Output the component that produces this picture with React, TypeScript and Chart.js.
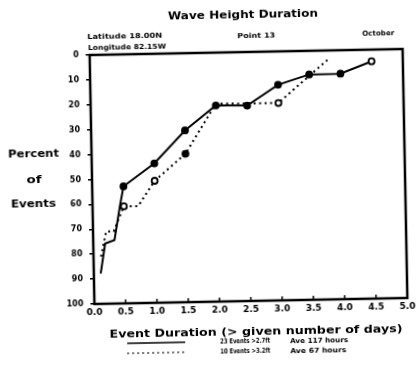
import React, { useEffect, useRef } from "react";
import { Chart, registerables } from "chart.js";

Chart.register(...registerables);

// ---- data ----
const solidX = [0.11, 0.19, 0.34, 0.44, 0.5, 1.0, 1.5, 2.0, 2.5, 3.0, 3.5, 4.0, 4.5];
const solidY = [87.8, 75.8, 74.5, 60.5, 53, 44, 31, 21.2, 21.5, 13.4, 9.5, 9.4, 4.7];
const solidMarker = [0, 0, 0, 0, 1, 1, 1, 1, 1, 1, 1, 1, 2];

const dottedX = [0.12, 0.21, 0.33, 0.5, 0.73, 1.0, 1.5, 2.0, 2.5, 3.0, 3.8];
const dottedY = [81, 71, 71, 61, 61, 51, 40.4, 20.5, 20.7, 20.7, 3.7];
const dottedMarker = [0, 0, 0, 2, 0, 2, 1, 0, 0, 2, 0];

const xTickLabels = ["0.0", "0.5", "1.0", "1.5", "2.0", "2.5", "3.0", "3.5", "4.0", "4.5", "5.0"];
const yTickLabels = ["0", "10", "20", "30", "40", "50", "60", "70", "80", "90", "100"];

const titleText = "Wave Height Duration";
const latText = "Latitude 18.00N";
const lonText = "Longitude 82.15W";
const pointText = "Point 13";
const monthText = "October";
const yTitle = ["Percent", "of", "Events"];
const xTitle = "Event Duration (> given number of days)";
const legendA = ["23 Events >2.7ft", "Ave 117 hours"];
const legendB = ["10 Events >3.2ft", "Ave 67 hours"];

const FONT = '"DejaVu Sans"';

function fitText(
  ctx: CanvasRenderingContext2D,
  text: string,
  x: number,
  y: number,
  width: number,
  font: string,
  align: "left" | "center"
) {
  ctx.save();
  ctx.font = font;
  ctx.textBaseline = "middle";
  ctx.textAlign = "left";
  const w = ctx.measureText(text).width;
  const sx = width / w;
  const left = align === "center" ? x - width / 2 : x;
  ctx.translate(left, y);
  ctx.scale(sx, 1);
  ctx.fillStyle = "#000";
  ctx.fillText(text, 0, 0);
  ctx.restore();
}

const decorPlugin = {
  id: "decor",
  afterDraw(chart: any) {
    const ctx: CanvasRenderingContext2D = chart.ctx;
    const a = chart.chartArea;
    const xs = chart.scales.x;
    ctx.save();
    // frame
    ctx.strokeStyle = "#000";
    ctx.lineWidth = 2.5;
    ctx.strokeRect(a.left, a.top, a.right - a.left, a.bottom - a.top);
    // inward x ticks
    ctx.lineWidth = 1.5;
    xs.ticks.forEach((t: any) => {
      const px = xs.getPixelForValue(t.value);
      ctx.beginPath();
      ctx.moveTo(px, a.bottom);
      ctx.lineTo(px, a.bottom - 4);
      ctx.stroke();
    });
    // texts
    fitText(ctx, titleText, 246, 15, 150, `bold 11px ${FONT}`, "center");
    fitText(ctx, latText, 90, 34, 75, `bold 7px ${FONT}`, "left");
    fitText(ctx, lonText, 90.5, 45, 78, `bold 7px ${FONT}`, "left");
    fitText(ctx, pointText, 259, 36, 38, `bold 7px ${FONT}`, "center");
    fitText(ctx, monthText, 381, 36, 32, `bold 7px ${FONT}`, "center");
    fitText(ctx, yTitle[0], 34, 150, 51, `bold 10px ${FONT}`, "center");
    fitText(ctx, yTitle[1], 34, 176, 15, `bold 10px ${FONT}`, "center");
    fitText(ctx, yTitle[2], 33, 200, 45, `bold 10px ${FONT}`, "center");
    fitText(ctx, xTitle, 253, 332, 293, `bold 11px ${FONT}`, "center");
    // legend
    ctx.strokeStyle = "#000";
    ctx.lineWidth = 1.5;
    ctx.setLineDash([]);
    ctx.beginPath();
    ctx.moveTo(124, 341);
    ctx.lineTo(182, 341);
    ctx.stroke();
    ctx.setLineDash([1.5, 3.5]);
    ctx.beginPath();
    ctx.moveTo(124, 351);
    ctx.lineTo(182, 351);
    ctx.stroke();
    ctx.setLineDash([]);
    fitText(ctx, legendA[0], 217, 341, 50, `bold 7px ${FONT}`, "left");
    fitText(ctx, legendA[1], 287, 342, 58, `bold 7px ${FONT}`, "left");
    fitText(ctx, legendB[0], 217, 351, 50, `bold 7px ${FONT}`, "left");
    fitText(ctx, legendB[1], 287, 352, 56, `bold 7px ${FONT}`, "left");
    ctx.restore();
  },
};

export default function App() {
  const ref = useRef<HTMLCanvasElement | null>(null);
  useEffect(() => {
    if (!ref.current) return;
    const solidData = solidX.map((x, i) => ({ x, y: solidY[i] }));
    const dottedData = dottedX.map((x, i) => ({ x, y: dottedY[i] }));
    const chart = new Chart(ref.current, {
      type: "line",
      data: {
        datasets: [
          {
            data: solidData,
            borderColor: "#000",
            borderWidth: 2,
            pointRadius: solidMarker.map((m) => (m ? 3 : 0)),
            pointBackgroundColor: solidMarker.map((m) => (m === 2 ? "#fff" : "#000")),
            pointBorderColor: "#000",
            pointBorderWidth: 1.8,
            tension: 0,
          },
          {
            data: dottedData,
            borderColor: "#000",
            borderWidth: 2,
            borderDash: [2, 3.5],
            pointRadius: dottedMarker.map((m) => (m ? 3 : 0)),
            pointBackgroundColor: dottedMarker.map((m) => (m === 2 ? "#fff" : "#000")),
            pointBorderColor: "#000",
            pointBorderWidth: 1.8,
            tension: 0,
          },
        ],
      },
      options: {
        animation: false,
        responsive: false,
        devicePixelRatio: 1,
        layout: { padding: { left: 0, right: 13, top: 52, bottom: 0 } },
        plugins: { legend: { display: false }, title: { display: false }, tooltip: { enabled: false } },
        scales: {
          x: {
            type: "linear",
            min: 0,
            max: 5,
            afterFit: (s: any) => {
              s.height = 75;
            },
            ticks: {
              stepSize: 0.5,
              autoSkip: false,
              maxRotation: 0,
              padding: 3,
              color: "#000",
              font: { family: "DejaVu Sans", size: 9, weight: "bold" },
              callback: (v: any) => xTickLabels[Math.round(Number(v) / 0.5)],
            },
            grid: { display: true, drawOnChartArea: false, drawTicks: false, color: "#000" },
            border: { display: false },
          },
          y: {
            type: "linear",
            min: 0,
            max: 100,
            reverse: true,
            afterFit: (s: any) => {
              s.width = 92;
            },
            ticks: {
              stepSize: 10,
              autoSkip: false,
              padding: 7,
              color: "#000",
              font: { family: "DejaVu Sans", size: 8, weight: "bold" },
              callback: (v: any) => yTickLabels[Math.round(Number(v) / 10)],
            },
            grid: { display: true, drawOnChartArea: false, drawTicks: true, tickLength: 4, lineWidth: 1.5, color: "#000" },
            border: { display: false },
          },
        },
      },
      plugins: [decorPlugin],
    } as any);
    return () => chart.destroy();
  }, []);
  return (
    <div
      style={{
        position: "absolute",
        left: 0,
        top: 0,
        width: 418,
        height: 376,
        background: "#fff",
        transform: "rotate(-1.1deg)",
        transformOrigin: "248.5px 176.25px",
      }}
    >
      <canvas ref={ref} width={418} height={376} style={{ display: "block", width: 418, height: 376 }} />
    </div>
  );
}
